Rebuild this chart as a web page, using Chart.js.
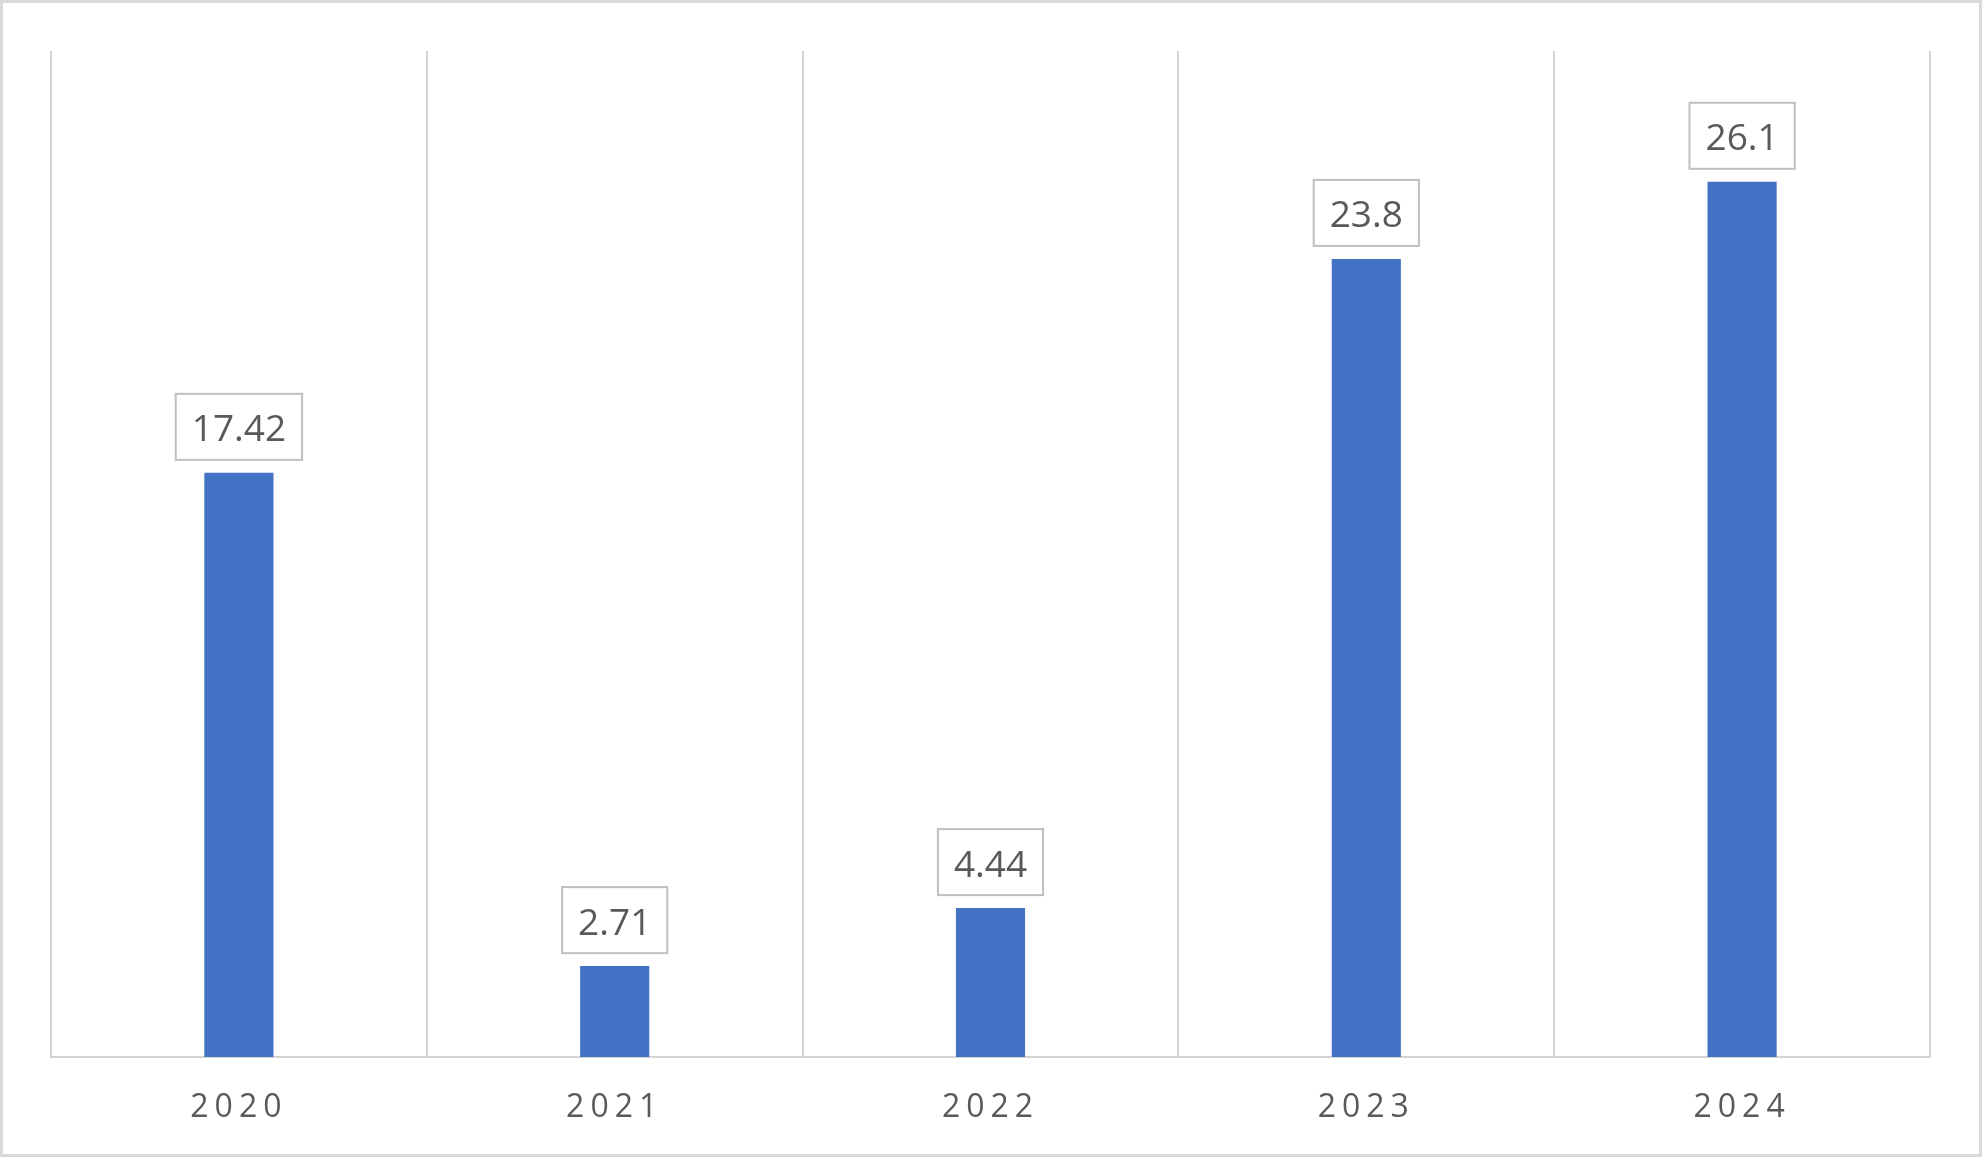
<!DOCTYPE html>
<html>
<head>
<meta charset="utf-8">
<script src="https://cdn.jsdelivr.net/npm/chart.js@4"></script>
<style>
  html, body { margin: 0; padding: 0; background: #fff; }
  #wrap {
    width: 1982px; height: 1157px;
    box-sizing: border-box;
    border: 3px solid #d9d9d9;
    background: #fff;
  }
  #wrap canvas { display: block; }
</style>
</head>
<body>
<div id="wrap"><canvas id="graphBars" width="1976" height="1151"></canvas></div>
<script>
var years = ['2020', '2021', '2022', '2023', '2024'];
var values = [17.42, 2.71, 4.44, 23.8, 26.1];
var valueLabels = ['17.42', '2.71', '4.44', '23.8', '26.1'];

// letter spacing for the year labels only
const spacedTicks = {
  id: 'spacedTicks',
  beforeDraw(chart) { chart.ctx.letterSpacing = '6px'; },
  beforeDatasetsDraw(chart) { chart.ctx.letterSpacing = '0px'; }
};

// boxed value labels above each bar
const boxLabels = {
  id: 'boxLabels',
  afterDatasetsDraw(chart) {
    const ctx = chart.ctx;
    const meta = chart.getDatasetMeta(0);
    ctx.save();
    ctx.letterSpacing = '0px';
    ctx.font = '37px "Open Sans"';
    ctx.textAlign = 'center';
    ctx.textBaseline = 'middle';
    meta.data.forEach((bar, i) => {
      const txt = valueLabels[i];
      const w = ctx.measureText(txt).width + 32;
      const h = 66;
      const bottom = bar.y - 13;
      ctx.fillStyle = '#fff';
      ctx.fillRect(bar.x - w / 2, bottom - h, w, h);
      ctx.strokeStyle = '#bfbfbf';
      ctx.lineWidth = 2;
      ctx.strokeRect(bar.x - w / 2, bottom - h, w, h);
      ctx.fillStyle = '#595959';
      ctx.fillText(txt, bar.x, bottom - h / 2 + 4);
    });
    ctx.restore();
  }
};

window.document.addEventListener("DOMContentLoaded", () => {
  const ctx = document.getElementById('graphBars');
  new Chart(ctx, {
    type: 'bar',
    data: {
      labels: years,
      datasets: [{
        data: values,
        backgroundColor: '#4472c4',
        borderWidth: 0,
        categoryPercentage: 1,
        barPercentage: 0.184
      }]
    },
    options: {
      responsive: false,
      animation: false,
      layout: { padding: { left: 48, right: 49, top: 48, bottom: 0 } },
      plugins: { legend: { display: false }, tooltip: { enabled: false } },
      scales: {
        x: {
          grid: { offset: true, color: '#d4d4d4', lineWidth: 2, drawTicks: false },
          border: { display: true, color: '#d4d4d4', width: 2 },
          ticks: { color: '#595959', font: { family: 'Open Sans', size: 32 }, padding: 32 },
          afterFit(scale) { scale.height = 97; }
        },
        y: {
          display: false,
          min: 0,
          max: 30
        }
      }
    },
    plugins: [spacedTicks, boxLabels]
  });
});
</script>
</body>
</html>
